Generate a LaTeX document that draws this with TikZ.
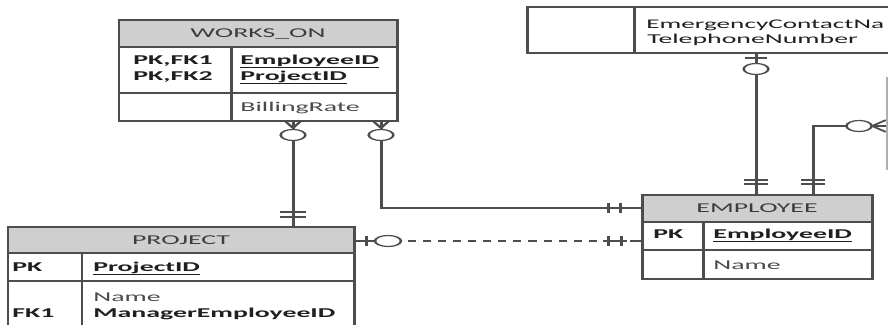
\documentclass[tikz,border=0pt]{standalone}
\usepackage{fontspec}
\setmainfont{Carlito}
\definecolor{ln}{HTML}{4D4D4D}
\definecolor{hdr}{HTML}{CFCFCF}
\definecolor{tx}{HTML}{1F1F1F}
\definecolor{txh}{HTML}{3C3C3C}
\definecolor{txg}{HTML}{4A4A4A}
\tikzset{
 box/.style={draw=ln, line width=1.45pt},
 hdrbox/.style={draw=ln, line width=1.45pt, fill=hdr},
 conn/.style={draw=ln, line width=1.45pt},
 dconn/.style={conn, dash pattern=on 3.9pt off 3.4pt, dash phase=2.9pt},
 oval/.style={draw=ln, line width=1.2pt, fill=white},
 txt/.style={anchor=base west, inner sep=0pt, text=tx, font=\fontsize{13.5}{16}\selectfont},
 keytxt/.style={txt, font=\fontsize{13.5}{16}\selectfont\bfseries},
 reg/.style={txt, text=txg},
 title/.style={anchor=base, inner sep=0pt, text=txh, font=\fontsize{13.5}{16}\selectfont},
}
\begin{document}
\begin{tikzpicture}[x=1pt,y=-1pt]
\useasboundingbox (0,0) rectangle (888,324);
\fill[white] (0,0) rectangle (888,324);
\clip (0,0) rectangle (888,324);
\begin{scope}[transform canvas={xscale=2.06}, x=0.48544pt, y=-1pt]
% WORKS_ON
\filldraw[hdrbox] (119,20) rectangle (397,47);
\draw[box] (119,47) rectangle (397,121);
\draw[box] (119,93) -- (397,93);
\draw[box] (231,47) -- (231,121);
\node[title] (woT) at (258,37.5) {WORKS\_ON};
\node[keytxt] (woK1) at (133,64) {PK,FK1};
\node[keytxt] (woK2) at (133,80) {PK,FK2};
\node[keytxt] (woF1) at (240,64) {\underline{EmployeeID}};
\node[keytxt] (woF2) at (240,80) {\underline{ProjectID}};
\node[reg] (woF3) at (240,111) {BillingRate};
% emergency contact box (partly visible)
\draw[box] (527,7) rectangle (900,53);
\draw[box] (634,7) -- (634,53);
\node[txt, font=\fontsize{13.2}{16}\selectfont] (ecN) at (646,28.5) {EmergencyContactNa};
\node[txt] (ecT) at (647,43.5) {TelephoneNumber};
% EMPLOYEE
\filldraw[hdrbox] (642,195) rectangle (872,222);
\draw[box] (642,222) rectangle (872,279);
\draw[box] (642,250) -- (872,250);
\draw[box] (703,222) -- (703,279);
\node[title] (emT) at (757,212) {EMPLOYEE};
\node[keytxt] (emK) at (653,238) {PK};
\node[keytxt] (emF1) at (713,238) {\underline{EmployeeID}};
\node[reg] (emF2) at (713,269) {Name};
% PROJECT
\filldraw[hdrbox] (8,227) rectangle (354,253);
\draw[box] (8,253) rectangle (354,340);
\draw[box] (8,281) -- (354,281);
\draw[box] (82,253) -- (82,340);
\node[title] (prT) at (181,244) {PROJECT};
\node[keytxt] (prK) at (12,271) {PK};
\node[keytxt] (prF1) at (93,271) {\underline{ProjectID}};
\node[reg] (prF2) at (93,301) {Name};
\node[keytxt] (prK2) at (12,317) {FK1};
\node[keytxt] (prF3) at (93,317) {ManagerEmployeeID};
% connector coordinates
\coordinate (woB1) at (293,121);
\coordinate (prTop) at (293,227);
\coordinate (woB2) at (381,121);
\coordinate (emL1) at (642,208);
\coordinate (prR) at (354,241);
\coordinate (emL2) at (642,241);
\coordinate (ecB) at (756,53);
\coordinate (emT1) at (756,195);
\coordinate (emT2) at (813,195);
\coordinate (rtE) at (886,126);
% WORKS_ON -- PROJECT
\draw[conn] (woB1) -- (prTop);
\draw[conn] (285,121) -- (293,128) -- (301,121);
\draw[oval] (293,135) ellipse [x radius=6pt, y radius=5.5pt];
\draw[conn] (280,212) -- (306,212);
\draw[conn] (280,217) -- (306,217);
% WORKS_ON -- EMPLOYEE
\draw[conn] (woB2) |- (emL1);
\draw[conn] (373,121) -- (381,128) -- (389,121);
\draw[oval] (381,135) ellipse [x radius=6pt, y radius=5.5pt];
\draw[conn] (608,203) -- (608,213);
\draw[conn] (620,203) -- (620,213);
% PROJECT -- EMPLOYEE (dashed)
\draw[dconn] (prR) -- (emL2);
\draw[conn] (prR) -- (376,241);
\draw[conn] (366,236) -- (366,246);
\draw[oval] (388,241) ellipse [x radius=6.3pt, y radius=5.5pt];
\draw[conn] (603,241) -- (623,241);
\draw[conn] (630,241) -- (emL2);
\draw[conn] (608,236) -- (608,246);
\draw[conn] (621,236) -- (621,246);
% emergency contact -- EMPLOYEE
\draw[conn] (ecB) -- (emT1);
\draw[conn] (745,58) -- (767,58);
\draw[oval] (756,69) ellipse [x radius=6pt, y radius=5.5pt];
\draw[conn] (744,180) -- (768,180);
\draw[conn] (744,184) -- (768,184);
% EMPLOYEE -- box to the right
\draw[conn] (emT2) |- (rtE);
\draw[conn] (801,180) -- (825,180);
\draw[conn] (801,184) -- (825,184);
\draw[oval] (859,126) ellipse [x radius=6.1pt, y radius=5.5pt];
\draw[conn] (886,120) -- (872,126) -- (886,132);
\draw[draw=ln!45, line width=1pt] (887,77) -- (887,170);
\end{scope}
\end{tikzpicture}
\end{document}
